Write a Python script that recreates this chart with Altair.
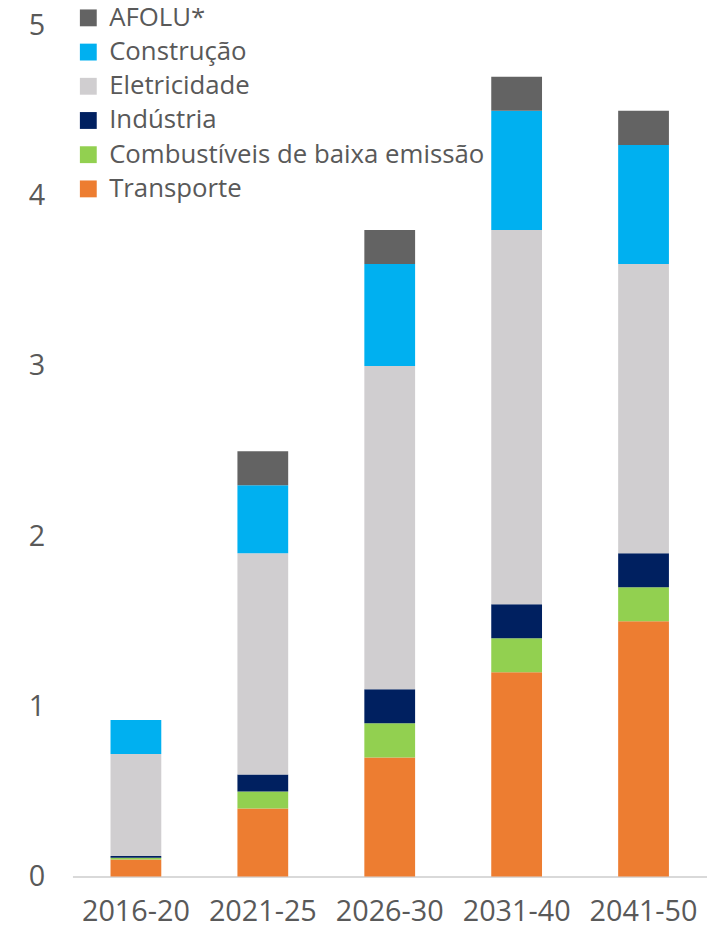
import altair as alt
import pandas as pd

periods = ["2016-20", "2021-25", "2026-30", "2031-40", "2041-50"]
sectors = ["AFOLU*", "Construção", "Eletricidade", "Indústria",
           "Combustíveis de baixa emissão", "Transporte"]
colors = ["#636363", "#00B0F0", "#D0CED0", "#002060", "#92D050", "#ED7D31"]

transporte = [0.10, 0.40, 0.70, 1.20, 1.50]
combustiveis = [0.01, 0.10, 0.20, 0.20, 0.20]
industria = [0.01, 0.10, 0.20, 0.20, 0.20]
eletricidade = [0.60, 1.30, 1.90, 2.20, 1.70]
construcao = [0.20, 0.40, 0.60, 0.70, 0.70]
afolu = [0.00, 0.20, 0.20, 0.20, 0.20]

series = {
    "Transporte": transporte,
    "Combustíveis de baixa emissão": combustiveis,
    "Indústria": industria,
    "Eletricidade": eletricidade,
    "Construção": construcao,
    "AFOLU*": afolu,
}

rows = []
for order, (name, vals) in enumerate(series.items()):
    for p, v in zip(periods, vals):
        rows.append({"period": p, "sector": name, "value": v, "ord": order})
df = pd.DataFrame(rows)

FONT = "Open Sans"
GRAY = "#595959"

chart = alt.Chart(df).mark_bar().encode(
    x=alt.X("period:N", sort=periods, title=None,
            scale=alt.Scale(paddingInner=0.6, paddingOuter=0.3),
            axis=alt.Axis(labelAngle=0, labelFontSize=29, labelFont=FONT,
                          labelColor=GRAY, ticks=False, domainColor="#D9D9D9",
                          domainWidth=2, labelPadding=21)),
    y=alt.Y("value:Q", stack="zero", title=None,
            scale=alt.Scale(domain=[0, 5], nice=False),
            axis=alt.Axis(values=[0, 1, 2, 3, 4, 5], format="d", grid=False,
                          domain=False, ticks=False, labelFontSize=29,
                          labelFont=FONT, labelColor=GRAY, labelPadding=28)),
    color=alt.Color("sector:N",
                    scale=alt.Scale(domain=sectors, range=colors),
                    legend=alt.Legend(title=None, orient="none", legendX=3,
                                      legendY=-21, symbolType="square",
                                      symbolSize=289, symbolStrokeWidth=0,
                                      labelFontSize=26, labelFont=FONT,
                                      labelColor=GRAY, rowPadding=8.5,
                                      labelOffset=8, labelLimit=500)),
    order=alt.Order("ord:Q", sort="ascending"),
).properties(
    width=640, height=858,
    padding={"left": 65, "top": 14, "right": 0, "bottom": 49},
    autosize=alt.AutoSizeParams(type="none"),
).configure_view(stroke=None)

chart.save("out.html", embed_options={"renderer": "svg", "actions": False})
